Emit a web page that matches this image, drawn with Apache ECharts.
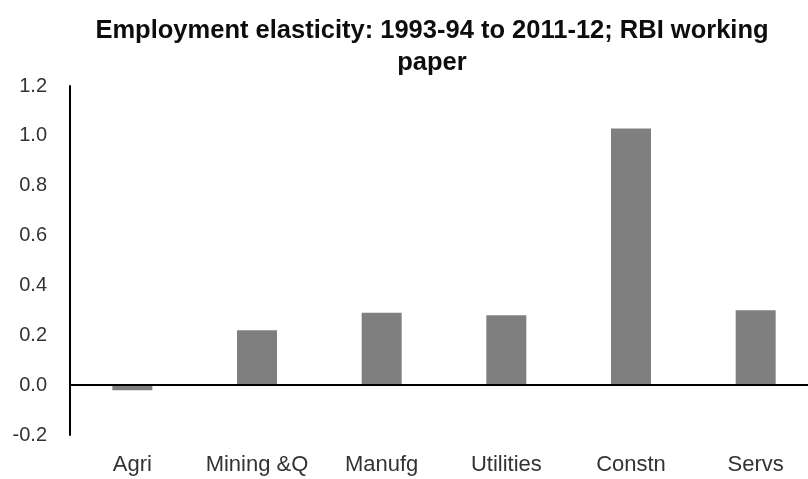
<!DOCTYPE html>
<html>
<head>
<meta charset="utf-8">
<title>Employment elasticity</title>
<script src="https://cdn.jsdelivr.net/npm/echarts@6/dist/echarts.min.js"></script>
<style>
  html, body { margin: 0; padding: 0; background: #ffffff; overflow: hidden; width: 808px; height: 479px; }
  /* the plot runs a little past the right edge of the page */
  #chart { width: 830px; height: 479px; }
</style>
</head>
<body>
<div id="chart"></div>
<script>
// Sectors and their employment elasticity, 1993-94 to 2011-12
const sectors = ['Agri', 'Mining &Q', 'Manufg', 'Utilities', 'Constn', 'Servs'];
const elasticity = [-0.02, 0.22, 0.29, 0.28, 1.03, 0.30];

// Value axis range and step
const yMin = -0.2;
const yMax = 1.2;
const yStep = 0.2;

const chart = echarts.init(document.getElementById('chart'), null, { renderer: 'canvas' });

chart.setOption({
  animation: false,
  backgroundColor: '#ffffff',
  textStyle: { fontFamily: 'Liberation Sans, Arial, sans-serif' },
  title: {
    text: 'Employment elasticity: 1993-94 to 2011-12; RBI working\npaper',
    left: 427,
    top: 10,
    textAlign: 'center',
    textStyle: {
      fontFamily: 'Liberation Sans, Arial, sans-serif',
      fontSize: 25.5,
      fontWeight: 'bold',
      color: '#0d0d0d',
      lineHeight: 32
    }
  },
  grid: {
    left: 70,
    top: 86,
    width: 748,
    bottom: 44,
    containLabel: false
  },
  xAxis: {
    type: 'category',
    data: sectors,
    axisLine: { show: false, onZero: false },
    axisTick: { show: false },
    axisLabel: {
      interval: 0,
      margin: 19,
      fontSize: 22,
      color: '#333333',
      fontFamily: 'Liberation Sans, Arial, sans-serif'
    },
    splitLine: { show: false }
  },
  yAxis: {
    type: 'value',
    min: yMin,
    max: yMax,
    interval: yStep,
    axisLine: { show: true, lineStyle: { color: '#000000', width: 2 } },
    axisTick: { show: false },
    splitLine: { show: false },
    axisLabel: {
      margin: 23,
      fontSize: 20,
      color: '#333333',
      fontFamily: 'Liberation Sans, Arial, sans-serif',
      formatter: function (v) { return v.toFixed(1); }
    }
  },
  series: [{
    type: 'bar',
    data: elasticity,
    barWidth: 40,
    itemStyle: { color: '#7f7f7f' },
    markLine: {
      silent: true,
      symbol: ['none', 'none'],
      label: { show: false },
      lineStyle: { color: '#000000', width: 2, type: 'solid' },
      data: [{ yAxis: 0 }]
    }
  }]
});
</script>
</body>
</html>
